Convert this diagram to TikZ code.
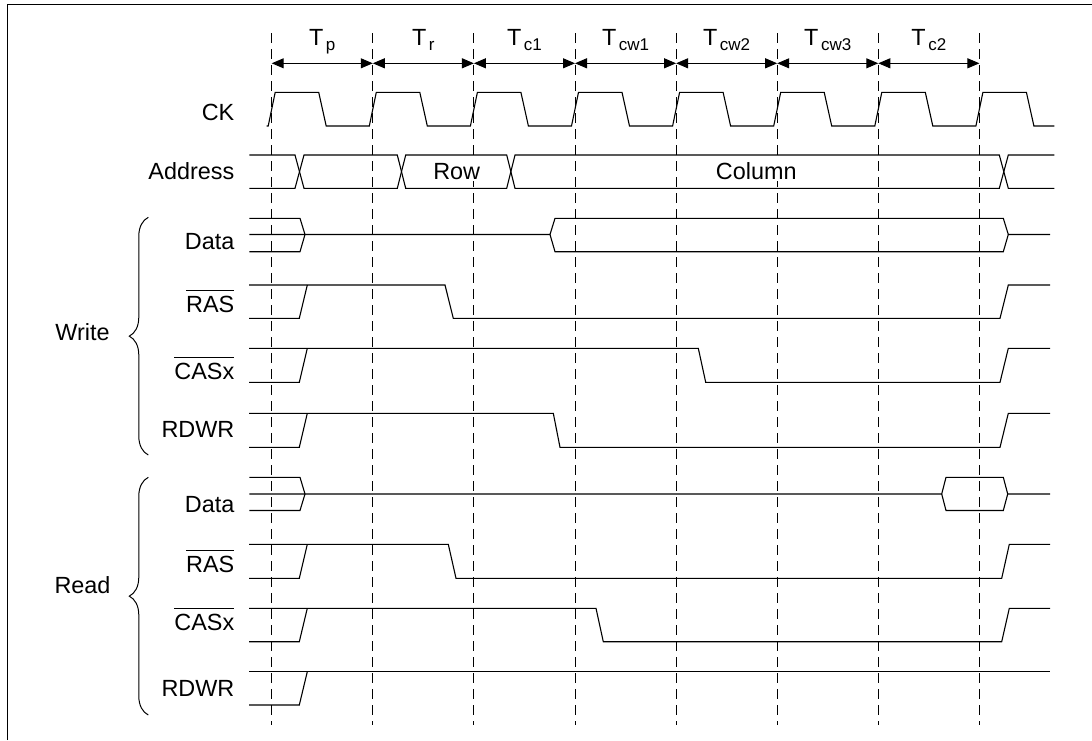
\documentclass[tikz,border=0pt]{standalone}
\usepackage{fontspec}
\setmainfont{Liberation Sans}
\usetikzlibrary{arrows.meta,decorations.pathreplacing}

\newcommand{\ovl}[1]{\vbox{\hrule height 0.9pt\kern5.5pt\hbox{#1}}}
\newcommand{\tsub}[1]{T\kern2.5pt\raisebox{-5pt}{\fontsize{17}{17}\selectfont #1}}

\begin{document}
\begin{tikzpicture}[x=1pt, y=-1pt,
	wave/.style={line width=1.1pt},
	guide/.style={line width=0.9pt, dash pattern=on 10pt off 6pt},
	tarrow/.style={line width=1pt, {Triangle[length=12pt,width=10pt]}-{Triangle[length=12pt,width=10pt]}},
	lbl/.style={anchor=base east, inner sep=0pt, font=\fontsize{23.4}{28}\selectfont},
	txt/.style={anchor=base, inner sep=0pt, font=\fontsize{23.4}{28}\selectfont},
	curly/.style={decorate, decoration={brace, amplitude=19pt}, line width=1pt}]
	\useasboundingbox (0,0) rectangle (1092,740);
	% frame
	\draw [line width=1.3pt] (7.3,740) -- (7.3,4.3) -- (1092,4.3);
	% clock periods
	\foreach \k in {0,...,7} {
		\coordinate (t\k) at ({271.7+101.1*\k},63.3);
		\draw [guide] ({271.7+101.1*\k},33) -- ({271.7+101.1*\k},725);
	}
	\foreach \a/\b/\s in {0/1/p,1/2/r,2/3/c1,3/4/cw1,4/5/cw2,5/6/cw3,6/7/c2} {
		\draw [tarrow] (t\a) -- (t\b) node [txt, midway, yshift=17.6pt] (T\s) {\tsub{\s}};
	}
	% CK
	\node [lbl] (ck) at (234.5,120.7) {CK};
	\draw [wave] (266.7,126) foreach \k in {0,...,7} {
		-- ({268.2+101.1*\k},126) -- ({275.2+101.1*\k},92.3) -- ({318.7+101.1*\k},92.3) -- ({326.2+101.1*\k},126)
	} -- (1054.3,126);
	% Address
	\node [lbl] (addr) at (234.5,179.3) {Address};
	\draw [wave] (249.3,155) -- (295,155) -- (304,188.3) -- (397.3,188.3) -- (405.7,155) -- (506.7,155)
		-- (515,188.3) -- (999.3,188.3) -- (1008.3,155) -- (1054.3,155);
	\draw [wave] (249.3,188.3) -- (295,188.3) -- (304,155) -- (397.3,155) -- (405.7,188.3) -- (506.7,188.3)
		-- (515,155) -- (999.3,155) -- (1008.3,188.3) -- (1054.3,188.3);
	\node [txt, fill=white, inner sep=2pt] (row) at (456.7,179) {Row};
	\node [txt, fill=white, inner sep=2pt] (col) at (756.3,179) {Column};
	% write cycle
	\node [txt] (write) at (82.5,340) {Write};
	\draw [curly] (148.3,455) -- (148.3,217.3);
	\node [lbl] (wdata) at (234.5,249.3) {Data};
	\draw [wave] (249.3,218.3) -- (300,218.3) -- (305,234.5);
	\draw [wave] (249.3,251.7) -- (300,251.7) -- (305,234.5);
	\draw [wave] (249.3,234.5) -- (550,234.5) -- (555,218.3) -- (1003.3,218.3) -- (1008.3,234.5) -- (1050,234.5);
	\draw [wave] (550,234.5) -- (555,251.7) -- (1003.3,251.7) -- (1008.3,234.5);
	\node [lbl] (wras) at (234.5,312.7) {\ovl{RAS}};
	\draw [wave] (249,285) -- (445,285) -- (453.3,318.3) -- (1000,318.3) -- (1008.3,285) -- (1050,285);
	\draw [wave] (249,318.3) -- (299.3,318.3) -- (307.3,285);
	\node [lbl] (wcas) at (234.5,379.3) {\ovl{CASx}};
	\draw [wave] (249,348.3) -- (698.3,348.3) -- (705.7,382.3) -- (1000,382.3) -- (1008.3,348.3) -- (1050,348.3);
	\draw [wave] (249,382.3) -- (299.3,382.3) -- (307.3,348.3);
	\node [lbl] (wrdwr) at (234.5,437.7) {RDWR};
	\draw [wave] (249,413.3) -- (553.3,413.3) -- (560,447.3) -- (1000,447.3) -- (1008.3,413.3) -- (1050,413.3);
	\draw [wave] (249,447.3) -- (299.3,447.3) -- (307.3,413.3);
	% read cycle
	\node [txt] (read) at (82.5,593.3) {Read};
	\draw [curly] (148.3,715) -- (148.3,477.3);
	\node [lbl] (rdata) at (234.5,512.3) {Data};
	\draw [wave] (249.3,477.3) -- (300,477.3) -- (305,494);
	\draw [wave] (249.3,510.5) -- (300,510.5) -- (305,494);
	\draw [wave] (249.3,494) -- (941.7,494) -- (946,477.3) -- (1003.3,477.3) -- (1007.7,494) -- (1050,494);
	\draw [wave] (941.7,494) -- (946,510.5) -- (1003.3,510.5) -- (1007.7,494);
	\node [lbl] (rras) at (234.5,572.7) {\ovl{RAS}};
	\draw [wave] (249,544.3) -- (448.3,544.3) -- (456,578.3) -- (1001.7,578.3) -- (1009.3,544.3) -- (1050,544.3);
	\draw [wave] (249,578.3) -- (299.3,578.3) -- (307.3,544.3);
	\node [lbl] (rcas) at (234.5,630.7) {\ovl{CASx}};
	\draw [wave] (249,608.3) -- (596,608.3) -- (603.3,641.7) -- (1001.7,641.7) -- (1009.3,608.3) -- (1050,608.3);
	\draw [wave] (249,641.7) -- (299.3,641.7) -- (307.3,608.3);
	\node [lbl] (rrdwr) at (234.5,696.7) {RDWR};
	\draw [wave] (249,671.7) -- (1050,671.7);
	\draw [wave] (249,705) -- (299.3,705) -- (307.3,671.7);
\end{tikzpicture}
\end{document}
